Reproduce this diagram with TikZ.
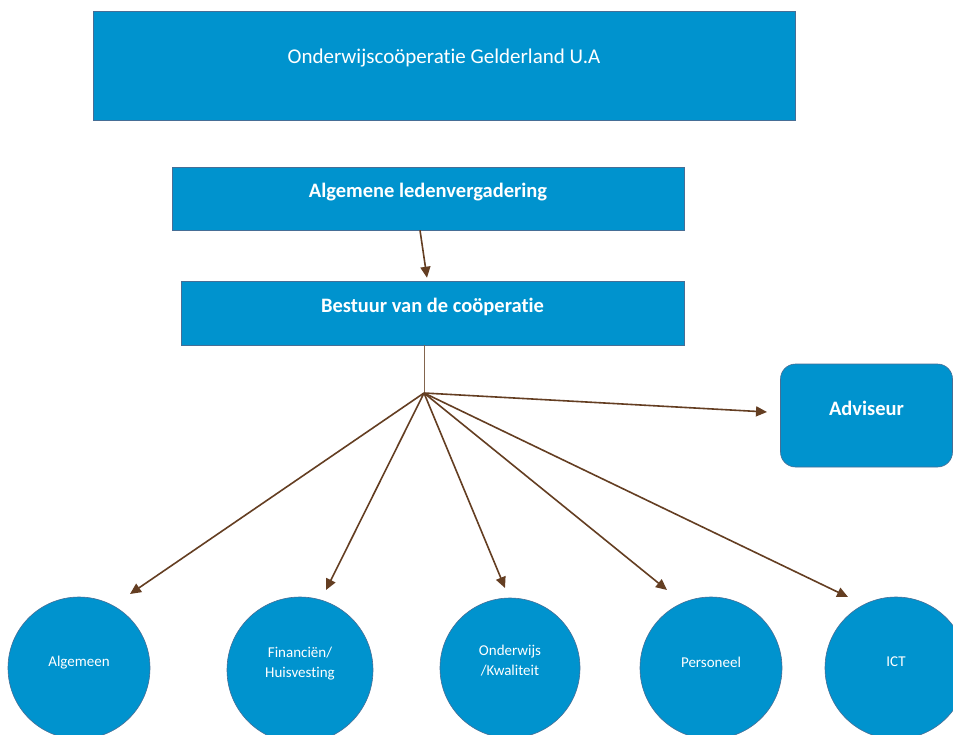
\documentclass[tikz,border=0pt]{standalone}
\usepackage{fontspec}
\setmainfont{Carlito}[Ligatures=CommonOff]
\usetikzlibrary{arrows.meta}
\definecolor{boxblue}{RGB}{0,147,206}
\definecolor{edgeblue}{RGB}{70,110,150}
\definecolor{arrowbrown}{RGB}{100,62,34}
\begin{document}
\begin{tikzpicture}[x=1pt,y=-1pt,
  box/.style={draw=edgeblue, line width=0.6pt, fill=boxblue, inner sep=0pt},
  circ/.style={box, circle, minimum size=142pt},
  lab/.style={text=white, font=\fontsize{21}{24}\selectfont, align=center},
  blab/.style={text=white, font=\fontsize{20.5}{24}\selectfont\bfseries, align=center},
  clab/.style={text=white, font=\fontsize{15}{20}\selectfont, align=center},
  conn/.style={draw=arrowbrown, line width=1.6pt, -{Triangle[length=11pt,width=10pt]}},
  stem/.style={draw=arrowbrown!80, line width=1pt}
]
\clip (0,0) rectangle (953,734);
\fill[white] (0,0) rectangle (953,734);

% boxes
\node[box, minimum width=702pt, minimum height=109pt] (top) at (444,65.5) {};
\node[lab] (toplab) at ([yshift=7pt]top.center) {Onderwijscoöperatie Gelderland U.A};

\node[box, minimum width=512pt, minimum height=63pt] (alv) at (428,198.5) {};
\node[blab] (alvlab) at ([yshift=6pt]alv.center) {Algemene ledenvergadering};

\node[box, minimum width=503pt, minimum height=64pt] (bestuur) at (432.5,313) {};
\node[blab] (bestuurlab) at ([yshift=6pt]bestuur.center) {Bestuur van de coöperatie};

\node[box, rounded corners=15pt, minimum width=172pt, minimum height=103pt] (adv) at (866.5,415.5) {};
\node[blab] (advlab) at ([yshift=7pt]adv.center) {Adviseur};

% circles
\node[circ] (c1) at (79,668) {};
\node[clab] (c1lab) at ([yshift=5.5pt]c1.center) {Algemeen};
\node[circ, minimum size=146pt] (c2) at (300,670) {};
\node[clab] (c2lab) at ([yshift=6.5pt]c2.center) {Financiën/\\Huisvesting};
\node[circ, minimum size=140pt] (c3) at (510,668) {};
\node[clab] (c3lab) at ([yshift=7pt]c3.center) {Onderwijs\\/Kwaliteit};
\node[circ] (c4) at (711,668) {};
\node[clab] (c4lab) at ([yshift=6pt]c4.center) {Personeel};
\node[circ] (c5) at (896,668) {};
\node[clab] (c5lab) at ([yshift=6pt]c5.center) {ICT};

% connectors
\coordinate (hub) at (424,393);
\coordinate (t1) at (130,594);
\coordinate (t2) at (326,590);
\coordinate (t3) at (505,588);
\coordinate (t4) at (667,590);
\coordinate (t5) at (848,597);
\coordinate (tadv) at (767,412);

\draw[conn] ([xshift=-8pt]alv.south) -- ([xshift=-5.5pt,yshift=3pt]bestuur.north);
\draw[stem] (bestuur.south -| hub) -- (hub);
\draw[conn] (hub) -- (tadv);
\draw[conn] (hub) -- (t1);
\draw[conn] (hub) -- (t2);
\draw[conn] (hub) -- (t3);
\draw[conn] (hub) -- (t4);
\draw[conn] (hub) -- (t5);
\end{tikzpicture}
\end{document}
